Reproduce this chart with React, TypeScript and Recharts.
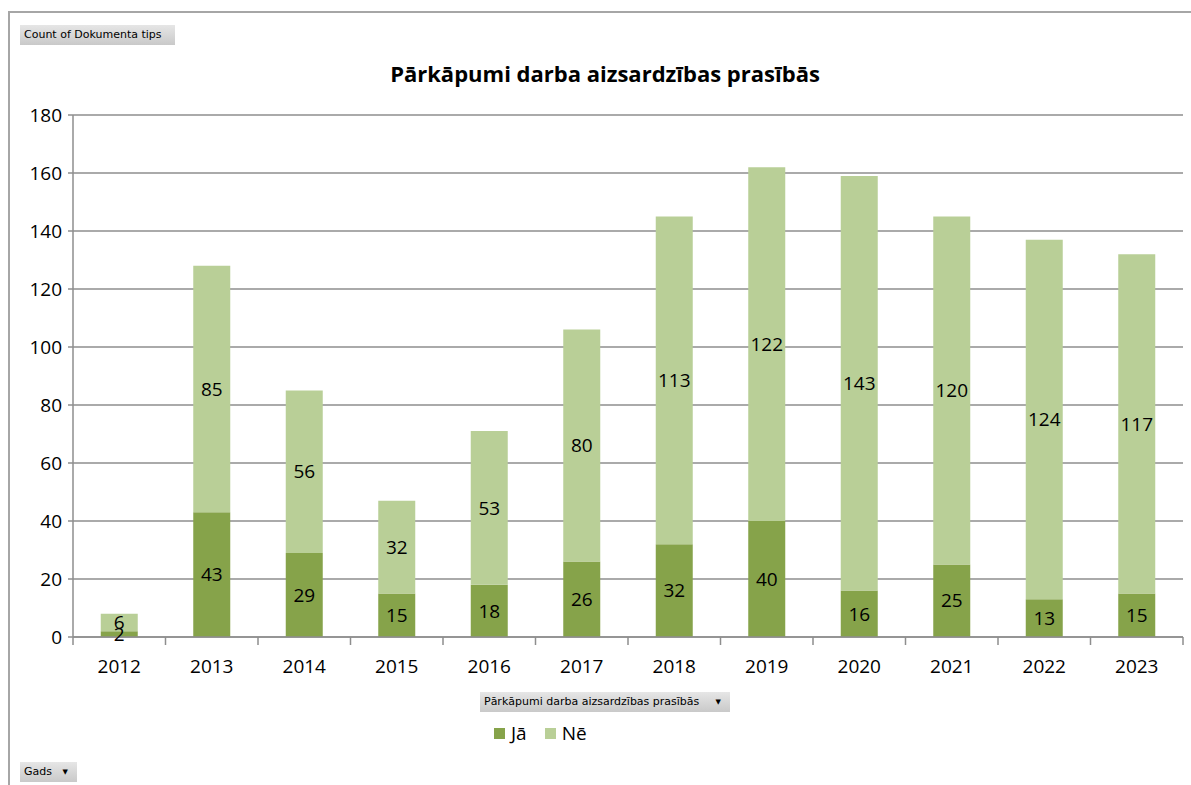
import { BarChart, Bar, XAxis, YAxis, CartesianGrid, LabelList } from "recharts";

const years = ["2012", "2013", "2014", "2015", "2016", "2017", "2018", "2019", "2020", "2021", "2022", "2023"];
const jaValues = [2, 43, 29, 15, 18, 26, 32, 40, 16, 25, 13, 15];
const neValues = [6, 85, 56, 32, 53, 80, 113, 122, 143, 120, 124, 117];
const yTicks = [0, 20, 40, 60, 80, 100, 120, 140, 160, 180];

const data = years.map((y, i) => ({ year: y, ja: jaValues[i], ne: neValues[i] }));

const DARK = "#86A34A";
const LIGHT = "#B9CF97";
const GRID = "#8E8E8E";
const FONT = "'Open Sans', 'Noto Sans', sans-serif";

const W = 1191;
const H = 785;
const PLOT_LEFT = 73;
const PLOT_RIGHT = 1183;
const STEP = (PLOT_RIGHT - PLOT_LEFT) / years.length;

function YearTick(props: any) {
  const { x, y, payload, index } = props;
  const last = index === years.length - 1;
  return (
    <g>
      <line x1={x - STEP / 2} x2={x - STEP / 2} y1={y} y2={y + 8} stroke={GRID} strokeWidth={1.5} />
      {last && <line x1={x + STEP / 2} x2={x + STEP / 2} y1={y} y2={y + 8} stroke={GRID} strokeWidth={1.5} />}
      <text x={x} y={y + 36} textAnchor="middle" fontSize={19} fontFamily={FONT} fill="#000">
        {payload.value}
      </text>
    </g>
  );
}

const btn: React.CSSProperties = {
  position: "absolute",
  height: 20,
  background: "linear-gradient(#e6e6e6, #c9c9c9)",
  fontFamily: "'DejaVu Sans', sans-serif",
  fontSize: 11,
  color: "#000",
  lineHeight: "20px",
  boxSizing: "border-box",
  paddingLeft: 4,
  whiteSpace: "nowrap",
};

const arrow: React.CSSProperties = { position: "absolute", right: 9, fontSize: 7 };

export default function App() {
  return (
    <div style={{ position: "absolute", left: 0, top: 0, width: W, height: H, background: "#fff", overflow: "hidden" }}>
      <div style={{ position: "absolute", left: 8, top: 11, width: W, height: H, borderLeft: "2px solid #a6a6a6", borderTop: "2px solid #a6a6a6" }} />
      <div style={{ ...btn, left: 20, top: 25, width: 155 }}>Count of Dokumenta tips</div>
      <div style={{ position: "absolute", left: 0, width: 1210, top: 58, textAlign: "center", fontFamily: FONT, fontWeight: 700, fontSize: 22, color: "#000" }}>
        Pārkāpumi darba aizsardzības prasībās
      </div>
      <div style={{ position: "absolute", left: 0, top: 0 }}>
        <BarChart width={W} height={H} data={data} margin={{ top: 115, right: W - PLOT_RIGHT, bottom: 118, left: 13 }} barCategoryGap="30%">
          <CartesianGrid vertical={false} stroke={GRID} strokeWidth={1.5} />
          <XAxis dataKey="year" tickLine={false} tickSize={0} tickMargin={0} height={30} stroke={GRID} strokeWidth={1.5} tick={<YearTick />} interval={0} />
          <YAxis
            domain={[0, 180]}
            ticks={yTicks}
            width={60}
            stroke={GRID}
            strokeWidth={1.5}
            tickSize={5}
            tickMargin={6}
            tick={{ fontSize: 19, fontFamily: FONT, fill: "#000" }}
            interval={0}
          />
          <Bar dataKey="ja" stackId="s" fill={DARK} isAnimationActive={false}>
            <LabelList dataKey="ja" position="center" fontSize={19} fontFamily={FONT} fill="#000" />
          </Bar>
          <Bar dataKey="ne" stackId="s" fill={LIGHT} isAnimationActive={false}>
            <LabelList dataKey="ne" position="center" fontSize={19} fontFamily={FONT} fill="#000" />
          </Bar>
        </BarChart>
      </div>
      <div style={{ ...btn, left: 480, top: 692, width: 250 }}>
        Pārkāpumi darba aizsardzības prasībās
        <span style={arrow}>▼</span>
      </div>
      <div style={{ position: "absolute", left: 494, top: 720, display: "flex", alignItems: "center", fontFamily: FONT, fontSize: 19, color: "#000" }}>
        <span style={{ width: 11, height: 11, background: DARK, marginRight: 6 }} />
        <span style={{ marginRight: 18 }}>Jā</span>
        <span style={{ width: 11, height: 11, background: LIGHT, marginRight: 6 }} />
        <span>Nē</span>
      </div>
      <div style={{ ...btn, left: 20, top: 762, width: 57 }}>
        Gads
        <span style={arrow}>▼</span>
      </div>
    </div>
  );
}
